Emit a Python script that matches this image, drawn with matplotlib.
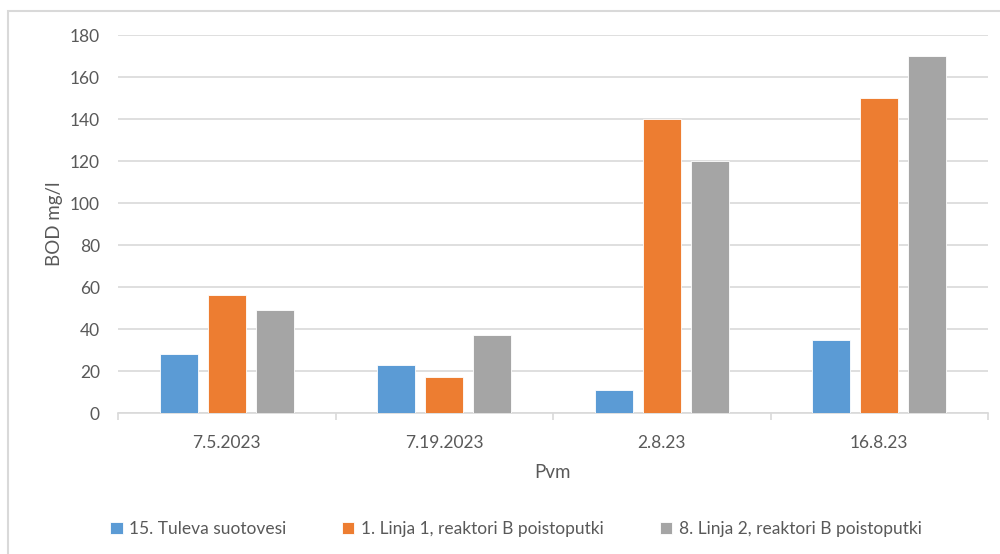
import matplotlib
matplotlib.use("Agg")
import matplotlib.pyplot as plt
from matplotlib.patches import Rectangle
import numpy as np

plt.rcParams['font.family'] = ['Lato', 'DejaVu Sans']

categories = ["7.5.2023", "7.19.2023", "2.8.23", "16.8.23"]
series_names = ["15. Tuleva suotovesi",
                "1. Linja 1, reaktori B poistoputki",
                "8. Linja 2, reaktori B poistoputki"]
tuleva = [28, 23, 11, 35]
linja1 = [56, 17, 140, 150]
linja2 = [49, 37, 120, 170]
y_ticks = [0, 20, 40, 60, 80, 100, 120, 140, 160, 180]

colors = ["#5B9BD5", "#ED7D31", "#A5A5A5"]
text_color = "#595959"
grid_color = "#D9D9D9"

W, H = 1000, 554
fig = plt.figure(figsize=(W / 100, H / 100), dpi=100)

# outer chart-area frame
fig.patches.append(Rectangle((8 / W, -0.1), 1.2, 1 - 11 / H + 0.1,
                             transform=fig.transFigure, fill=False,
                             edgecolor="#D9D9D9", linewidth=1.5, zorder=0))

left, right, top, bottom = 118, 988, 35, 413
ax = fig.add_axes([left / W, 1 - bottom / H, (right - left) / W, (bottom - top) / H])

x = np.arange(len(categories))
bw = 0.175
step = 0.2207
for i, (vals, name) in enumerate(zip([tuleva, linja1, linja2], series_names)):
    ax.bar(x + (i - 1) * step, vals, width=bw, color=colors[i], label=name,
           edgecolor="white", linewidth=0.6, zorder=3)

ax.set_xlim(-0.5, len(categories) - 0.5)
ax.set_ylim(0, 180)
ax.set_yticks(y_ticks)
ax.set_yticklabels([str(v) for v in y_ticks])
ax.yaxis.grid(True, color=grid_color, linewidth=1.2, zorder=0)
ax.tick_params(axis='y', length=0, pad=13, labelsize=12.5, labelcolor=text_color)

ax.set_xticks(x)
ax.set_xticklabels(categories)
ax.tick_params(axis='x', length=0, pad=16, labelsize=12.5, labelcolor=text_color)
ax.set_xticks(np.arange(-0.5, len(categories)), minor=True)
ax.tick_params(axis='x', which='minor', length=5, color=grid_color, width=1.2)

for s in ["top", "right", "left"]:
    ax.spines[s].set_visible(False)
ax.spines["bottom"].set_color(grid_color)
ax.spines["bottom"].set_linewidth(1.2)

ax.set_xlabel("Pvm", fontsize=13.5, color=text_color, labelpad=9)
ax.set_ylabel("BOD mg/l", fontsize=13.5, color=text_color, labelpad=5)

fig.legend(loc="center", bbox_to_anchor=(0.516, 1 - 529 / H), ncol=3,
           frameon=False, fontsize=12.5, labelcolor=text_color,
           handlelength=0.7, handleheight=0.7, handletextpad=0.4,
           columnspacing=3.2)

fig.savefig("out.png", dpi=100)
